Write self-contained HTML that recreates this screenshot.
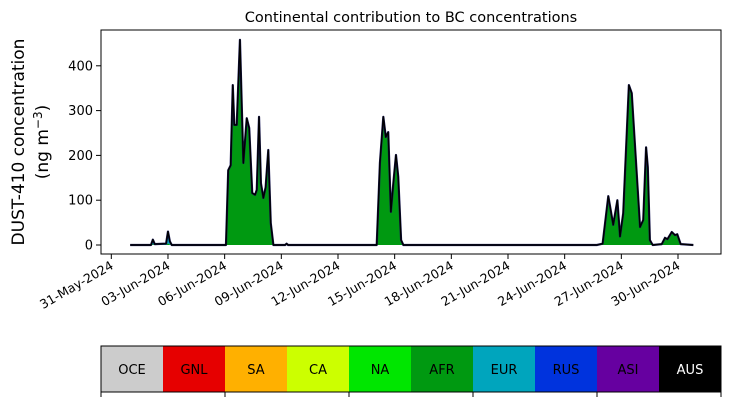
<!DOCTYPE html>
<html><head><meta charset="utf-8"><style>
body{margin:0;background:#fff;font-family:"Liberation Sans","DejaVu Sans",sans-serif}
svg text{font-family:"DejaVu Sans","Liberation Sans",sans-serif}
</style></head><body>
<svg id="c" width="730" height="402" xmlns="http://www.w3.org/2000/svg">
<rect width="730" height="402" fill="#fff"/>
<text x="411" y="22" font-size="14.5" text-anchor="middle">Continental contribution to BC concentrations</text>
<g>
<text transform="translate(24,142) rotate(-90)" font-size="17" text-anchor="middle">DUST-410 concentration</text>
<text transform="translate(48,142) rotate(-90)" font-size="17" text-anchor="middle">(ng m<tspan dy="-6" font-size="12">−3</tspan><tspan dy="6">)</tspan></text>
</g>
<g id="plot"></g>
<rect x="101" y="30" width="620" height="224" fill="none" stroke="#000" stroke-width="1"/>
<g id="cbar"></g>
</svg>
<script>
const tickDays=[0,3,6,9,12,15,18,21,24,27,30];
const tickLabels=["31-May-2024","03-Jun-2024","06-Jun-2024","09-Jun-2024","12-Jun-2024","15-Jun-2024","18-Jun-2024","21-Jun-2024","24-Jun-2024","27-Jun-2024","30-Jun-2024"];
const yTicks=[0,100,200,300,400];
const days=[1.0,2.1,2.2,2.3,2.9,3.0,3.1,3.2,6.0,6.07,6.19,6.32,6.43,6.51,6.64,6.81,6.99,7.17,7.30,7.46,7.61,7.70,7.82,7.92,8.05,8.17,8.31,8.44,8.58,9.2,9.28,9.36,14.0,14.05,14.22,14.40,14.53,14.66,14.80,14.93,15.07,15.19,15.34,15.46,25.70,26.01,26.31,26.57,26.79,26.93,27.10,27.40,27.55,27.99,28.16,28.31,28.40,28.51,28.66,29.14,29.31,29.44,29.67,29.84,29.96,30.14,30.81];
const afr=[0,0,2,0,0,4,1,0,0,0,167,178,357,268,268,458,183,283,261,116,112,123,286,138,105,129,212,49,0,0,3,0,0,0,183,286,241,252,74,138,201,152,11,0,0,3,109,45,100,19,71,357,339,40,56,218,174,11,0,2,16,13,29,22,24,2,0];
const eur=[0,0,10,2,3,26,7,0,0,0,0,0,0,0,0,0,0,0,0,0,0,0,0,0,0,0,0,0,0,0,0,0,0,0,0,0,0,0,0,0,0,0,0,0,0,0,0,0,0,0,0,0,0,0,0,0,0,0,0,0,0,0,0,0,0,0,0];
const regions=["OCE","GNL","SA","CA","NA","AFR","EUR","RUS","ASI","AUS"];
const regionColors=["#cccccc","#e60000","#ffb000","#ccff00","#00e600","#009911","#00a5bd","#0033dd","#6600a0","#000000"];
const NS="http://www.w3.org/2000/svg";
const X=d=>130.2+(d-1)*18.89;
const Y=v=>245-v*0.448;
function mk(t,a,p){const e=document.createElementNS(NS,t);for(const k in a)e.setAttribute(k,a[k]);p.appendChild(e);return e;}
const plot=document.getElementById('plot');
yTicks.forEach(v=>{
 const l=mk('line',{x1:96,x2:101,y1:Y(v),y2:Y(v),stroke:'#000'},plot);
 
 
 const t=mk('text',{x:93,y:Y(v)+4.5,'font-size':13,'text-anchor':'end'},plot);t.textContent=v;
 
 
});
tickDays.forEach((d,i)=>{
 const x=X(d);
 const l=mk('line',{x1:x,x2:x,y1:254,y2:259,stroke:'#000'},plot);
 
 
 const t=mk('text',{x:0,y:0,'font-size':12.5,'text-anchor':'end',transform:`translate(${x+3},${268}) rotate(-30)`},plot);
 t.textContent=tickLabels[i];
 
 
});
function area(lower,upper,color,name){
 let d='M'+X(days[0])+','+Y(upper[0]);
 for(let i=1;i<days.length;i++)d+='L'+X(days[i])+','+Y(upper[i]);
 for(let i=days.length-1;i>=0;i--)d+='L'+X(days[i])+','+Y(lower[i]);
 const p=mk('path',{d:d+'Z',fill:color,stroke:'none'},plot);
 
 
}
const zero=days.map(()=>0);
area(zero,afr,'#009911','area-afr');
const tot=afr.map((v,i)=>v+eur[i]);
area(afr,tot,'#00a5bd','area-eur');
let d='';days.forEach((dd,i)=>{d+=(i?'L':'M')+X(dd)+','+Y(tot[i]);});
const bl=mk('path',{d:d,fill:'none',stroke:'#1a1a5a',"stroke-width":2.2,'stroke-linejoin':'round'},plot);


const ln=mk('path',{d:d,fill:'none',stroke:'#000',"stroke-width":1.4,'stroke-linejoin':'round'},plot);


const cb=document.getElementById('cbar');
const w=62;
regions.forEach((r,i)=>{
 const x=101+i*w;
 const rc=mk('rect',{x:x,y:346,width:w,height:46,fill:regionColors[i]},cb);
 
 
 const t=mk('text',{x:x+w/2,y:374,'font-size':13,'text-anchor':'middle',fill:r==='AUS'?'#fff':'#000'},cb);
 t.textContent=r;
 
 
});
const fr=mk('rect',{x:101,y:346,width:620,height:46,fill:'none',stroke:'#000'},cb);


[0,2,4,6,8,10].forEach(k=>{
 const l=mk('line',{x1:101+k*w,x2:101+k*w,y1:392,y2:397,stroke:'#000'},cb);
 
 
});
</script>
</body></html>
